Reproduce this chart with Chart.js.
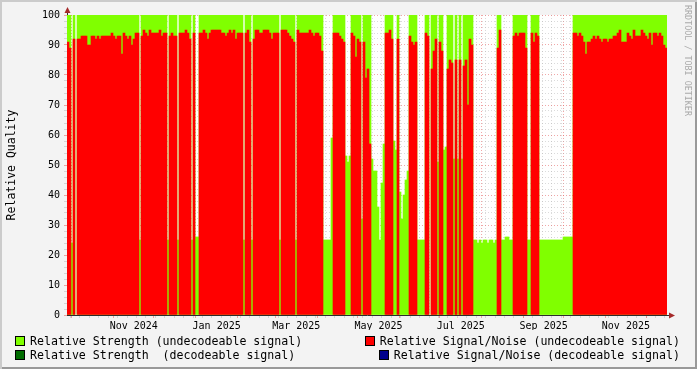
<!DOCTYPE html>
<html lang="en">
<head>
<meta charset="utf-8">
<title>Relative Quality</title>
<script src="https://cdn.jsdelivr.net/npm/chart.js@4.4.1/dist/chart.umd.min.js"></script>
<style>
  body { margin: 0; background: #f3f3f3; }
  #frame {
    position: relative;
    width: 697px;
    height: 369px;
    background: #f3f3f3;
    box-shadow: inset 2px 2px 0 #cbcbcb, inset -2px -2px 0 #999999;
    font-family: "DejaVu Sans Mono", monospace;
    color: #000;
    overflow: hidden;
  }
  #qualityChart { position: absolute; left: 0; top: 0; }
  #credit {
    position: absolute;
    left: 682px;
    top: 5px;
    writing-mode: vertical-rl;
    font-size: 8.4px;
    line-height: 11px;
    color: #a9a9a9;
  }
  .legend-row {
    position: absolute;
    left: 15px;
    width: 665px;
    height: 14px;
    display: flex;
    justify-content: space-between;
    align-items: center;
    font-size: 11.6px;
    white-space: pre;
  }
  .legend-item { display: flex; align-items: center; }
  .swatch { width: 8px; height: 8px; border: 1px solid #000; margin-right: 5px; }
</style>
</head>
<body>
<div id="frame">
  <canvas id="qualityChart" width="697" height="369"></canvas>
  <div id="credit">RRDTOOL / TOBI OETIKER</div>
  <div class="legend-row" id="legendTop" style="top:334px"></div>
  <div class="legend-row" id="legendBottom" style="top:348px"></div>
</div>
<script>
// one value per plot slot (about 1.5 days); null = no data
const strengthUndecodeable = [
  100, 100, 24, 100, null, 100, 100, 100, 100, 100,
  100, 100, 100, 100, 100, 100, 100, 100, 100, 100,
  100, 100, 100, 100, 100, 100, 100, 100, 100, 100,
  100, 100, 100, 100, 100, 100, 25, 100, 100, 100,
  100, 100, 100, 100, 100, 100, 100, 100, 100, 100,
  25, 100, 100, 100, 100, 25, 100, 100, 100, 100,
  100, 100, 25, 100, 26, 26, 100, 100, 100, 100,
  100, 100, 100, 100, 100, 100, 100, 100, 100, 100,
  100, 100, 100, 100, 100, 100, 100, 100, 25, 100,
  100, 100, 25, 100, 100, 100, 100, 100, 100, 100,
  100, 100, 100, 100, 100, 100, 25, 100, 100, 100,
  100, 100, 100, 100, 25, 100, 100, 100, 100, 100,
  100, 100, 100, 100, 100, 100, 100, 100, 25, 25,
  25, 25, 59, 100, 100, 100, 100, 100, 100, 53,
  51, 53, 100, 100, 100, 100, 100, 32, 100, 100,
  100, 100, 52, 48, 48, 36, 25, 44, 57, 100,
  100, 100, 100, 58, 55, 100, 41, 32, 40, 45,
  48, 100, 100, 100, 100, 25, 25, 25, 25, 100,
  100, null, 100, 100, 100, 51, 100, 100, 55, 56,
  100, 100, 100, 52, 100, 52, 100, 52, 100, 100,
  100, 100, 100, 25, 25, 24, 25, 24, 25, 25,
  24, 25, 25, 24, 25, 100, 100, 25, 25, 26,
  26, 25, 25, 100, 100, 100, 100, 100, 100, 100,
  25, 25, 100, 100, 100, 100, 25, 25, 25, 25,
  25, 25, 25, 25, 25, 25, 25, 25, 26, 26,
  26, 26, 26, 100, 100, 100, 100, 100, 100, 100,
  100, 100, 100, 100, 100, 100, 100, 100, 100, 100,
  100, 100, 100, 100, 100, 100, 100, 100, 100, 100,
  100, 100, 100, 100, 100, 100, 100, 100, 100, 100,
  100, 100, 100, 100, 100, 100, 100, 100, 100, 100,
];

const snrUndecodeable = [
  91, 89, null, 92, null, 92, 92, 93, 93, 93,
  90, 90, 93, 93, 92, 93, 92, 93, 93, 93,
  93, 93, 94, 93, 92, 93, 93, 87, 94, 93,
  92, 93, 90, 92, 94, 94, null, 93, 95, 94,
  93, 95, 94, 94, 94, 94, 95, 93, 94, 94,
  null, 93, 94, 93, 93, null, 94, 94, 94, 95,
  94, 92, null, 94, null, null, 94, 94, 95, 94,
  92, 94, 95, 95, 95, 95, 95, 94, 94, 93,
  94, 95, 94, 95, 92, 94, 94, 94, null, 94,
  95, 91, null, 92, 95, 95, 94, 94, 95, 95,
  95, 94, 92, 94, 94, 94, null, 95, 95, 95,
  94, 93, 92, 91, null, 95, 94, 94, 94, 94,
  94, 95, 94, 93, 94, 94, 93, 88, null, null,
  null, null, null, 94, 94, 94, 93, 92, 91, null,
  null, null, 94, 93, 86, 92, 91, null, 91, 79,
  82, 57, null, null, null, null, null, null, null, 94,
  94, 95, 92, null, null, 92, null, null, null, null,
  null, 93, 91, 90, 91, null, null, null, null, 94,
  93, null, 82, 88, 92, null, 91, 88, null, null,
  82, 85, 84, null, 85, null, 85, null, 83, 85,
  70, 92, 90, null, null, null, null, null, null, null,
  null, null, null, null, null, 89, 95, null, null, null,
  null, null, null, 93, 94, 93, 94, 94, 94, 89,
  null, null, 94, 91, 94, 93, null, null, null, null,
  null, null, null, null, null, null, null, null, null, null,
  null, null, null, 94, 94, 93, 94, 93, 91, 87,
  91, 91, 92, 93, 92, 93, 92, 91, 92, 92,
  91, 92, 92, 93, 93, 94, 95, 91, 91, 91,
  94, 93, 92, 95, 93, 93, 93, 95, 94, 93,
  92, 94, 90, 94, 94, 93, 94, 93, 90, 89,
];

// the decodeable series carry no data in this period
const strengthDecodeable = [];
const snrDecodeable = [];

const tickLabels = ["Nov 2024", "Jan 2025", "Mar 2025", "May 2025", "Jul 2025", "Sep 2025", "Nov 2025"];

const DAY = 86400000;
const start = Date.UTC(2024, 8, 27, 12);
const spanDays = 445;
const slotDays = spanDays / snrUndecodeable.length;
const monthNames = ["Jan", "Feb", "Mar", "Apr", "May", "Jun", "Jul", "Aug", "Sep", "Oct", "Nov", "Dec"];

// canvas 697 wide, axis strip 67 on the left, 30 free on the right
const plotWidth = 697 - 67 - 30;
const slotWidth = plotWidth / snrUndecodeable.length;

const toDay = (ms) => (ms - start) / DAY;
const asPoints = (values) => values.map((y, i) => ({ x: (i + 0.5) * slotDays, y }));

const axisColour = "#2c2c2c";
const arrowColour = "#a52a2a";
const minorGrid = "rgba(175,175,175,0.45)";
const majorGrid = "rgba(230,95,95,0.55)";

function buildTimeTicks(scale) {
  const end = start + spanDays * DAY;
  const ticks = [];
  // weekly minor lines (Mondays)
  for (let t = Date.UTC(2024, 8, 30); t < end; t += 7 * DAY) {
    ticks.push({ value: toDay(t), kind: "minor" });
  }
  // month starts
  for (let m = 9; Date.UTC(2024, m, 1) < end; m++) {
    ticks.push({ value: toDay(Date.UTC(2024, m, 1)), kind: "major" });
  }
  // labels centred on their month
  tickLabels.forEach((text) => {
    const [mon, yr] = text.split(" ");
    const m = monthNames.indexOf(mon);
    const mid = (Date.UTC(+yr, m, 1) + Date.UTC(+yr, m + 1, 1)) / 2;
    ticks.push({ value: toDay(mid), kind: "label", text });
  });
  ticks.sort((a, b) => a.value - b.value);
  scale.ticks = ticks;
}

const timeGridColour = (ctx) => {
  if (!ctx.tick) return minorGrid;
  if (ctx.tick.kind === "major") return majorGrid;
  if (ctx.tick.kind === "label") return "rgba(0,0,0,0)";
  return minorGrid;
};

const valueGridColour = (ctx) =>
  ctx.tick && ctx.tick.value % 10 === 0 ? majorGrid : minorGrid;

const plotFrame = {
  id: "plotFrame",
  beforeDraw(chart) {
    const { ctx, chartArea: a } = chart;
    ctx.save();
    ctx.fillStyle = "#ffffff";
    ctx.fillRect(a.left, a.top, a.right - a.left, a.bottom - a.top);
    ctx.restore();
  },
  afterDraw(chart) {
    const { ctx, chartArea: a } = chart;
    ctx.save();
    ctx.strokeStyle = axisColour;
    ctx.lineWidth = 1;
    ctx.beginPath();
    ctx.moveTo(a.left + 0.5, a.top);
    ctx.lineTo(a.left + 0.5, a.top - 4);
    ctx.moveTo(a.right, a.bottom + 0.5);
    ctx.lineTo(a.right + 3, a.bottom + 0.5);
    ctx.stroke();
    ctx.fillStyle = arrowColour;
    ctx.beginPath();
    ctx.moveTo(a.left - 2.5, a.top - 2);
    ctx.lineTo(a.left + 3.5, a.top - 2);
    ctx.lineTo(a.left + 0.5, a.top - 8);
    ctx.closePath();
    ctx.fill();
    ctx.beginPath();
    ctx.moveTo(a.right + 2, a.bottom - 2.5);
    ctx.lineTo(a.right + 2, a.bottom + 3.5);
    ctx.lineTo(a.right + 8, a.bottom + 0.5);
    ctx.closePath();
    ctx.fill();
    ctx.restore();
  },
};

Chart.defaults.font.family = "'DejaVu Sans Mono', monospace";
Chart.defaults.color = "#000";

const series = [
  { label: "Relative Signal/Noise (undecodeable signal)", data: snrUndecodeable, color: "#ff0000", order: 0 },
  { label: "Relative Strength (undecodeable signal)", data: strengthUndecodeable, color: "#80ff00", order: 1 },
  { label: "Relative Strength  (decodeable signal)", data: strengthDecodeable, color: "#006c00", order: 2 },
  { label: "Relative Signal/Noise (decodeable signal)", data: snrDecodeable, color: "#00008b", order: 3 },
];

new Chart(document.getElementById("qualityChart"), {
  type: "bar",

  data: {
    datasets: series.map((s) => ({
      label: s.label,
      data: asPoints(s.data),
      backgroundColor: s.color,
      borderWidth: 0,
      barThickness: slotWidth,
      barPercentage: 1,
      categoryPercentage: 1,
      grouped: false,
      order: s.order,
    })),
  },

  options: {
    responsive: false,
    animation: false,
    devicePixelRatio: 1,

    layout: {
      padding: { top: 15, right: 30, bottom: 39, left: 0 },
    },

    plugins: {
      legend: { display: false },
      tooltip: { enabled: false },
    },

    scales: {
      x: {
        type: "linear",
        position: "bottom",
        min: 0,
        max: spanDays,
        bounds: "data",
        offset: false,
        z: 1,
        afterBuildTicks: buildTimeTicks,
        afterFit: (scale) => {
          scale.height = 15;
        },
        grid: {
          offset: false,
          color: timeGridColour,
          tickColor: timeGridColour,
          tickLength: 3,
          lineWidth: 1,
        },
        border: { display: true, color: axisColour, dash: [1, 2] },
        ticks: {
          autoSkip: false,
          maxRotation: 0,
          padding: 2,
          font: { size: 10 },
          callback: (value, index, ticks) => ticks[index].text || "",
        },
      },

      y: {
        min: 0,
        max: 100,
        z: 1,
        afterFit: (scale) => {
          scale.width = 67;
        },
        grid: {
          color: valueGridColour,
          tickColor: valueGridColour,
          tickLength: 3,
          lineWidth: 1,
        },
        border: { display: true, color: axisColour, dash: [1, 2] },
        ticks: {
          stepSize: 2,
          autoSkip: false,
          padding: 4,
          font: { size: 10 },
          callback: (value) => (value % 10 === 0 ? value : ""),
        },
        title: {
          display: true,
          text: "Relative Quality",
          font: { size: 11.5 },
          padding: { top: 5, bottom: 0 },
        },
      },
    },
  },

  plugins: [plotFrame],
});

// legend laid out like rrdtool: left column flush left, right column flush right
function legendItem(s) {
  const item = document.createElement("div");
  item.className = "legend-item";
  const box = document.createElement("span");
  box.className = "swatch";
  box.style.background = s.color;
  const text = document.createElement("span");
  text.textContent = s.label;
  item.append(box, text);
  return item;
}

document.getElementById("legendTop").append(legendItem(series[1]), legendItem(series[0]));
document.getElementById("legendBottom").append(legendItem(series[2]), legendItem(series[3]));
</script>
</body>
</html>
